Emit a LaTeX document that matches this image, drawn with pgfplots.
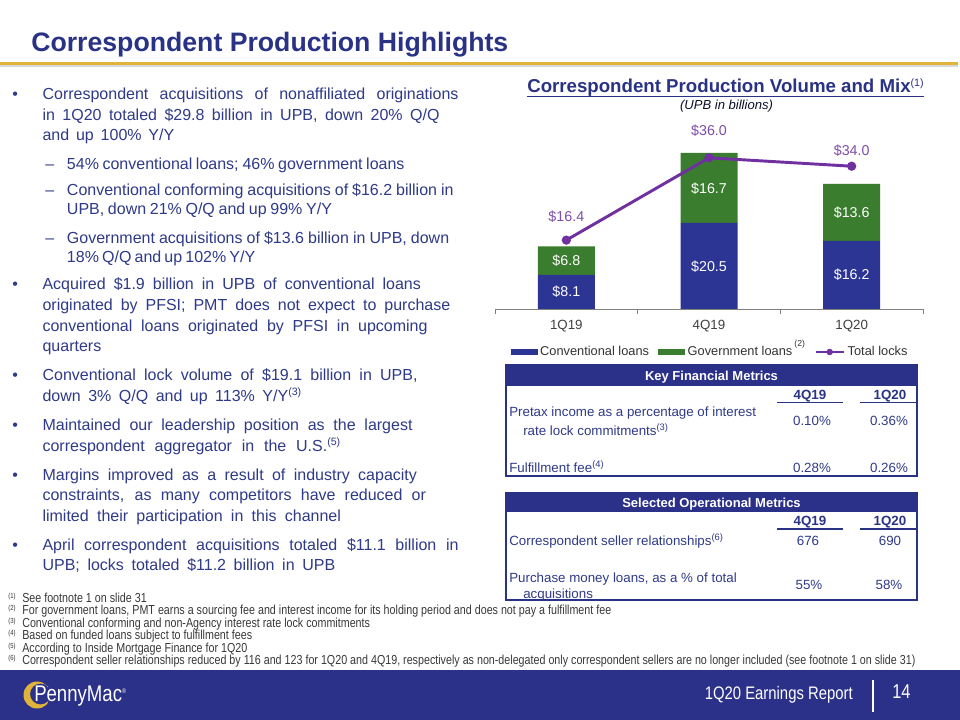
\documentclass[border=0pt]{standalone}
\usepackage{fontspec}
\setmainfont{Liberation Sans}
\newfontfamily\narrow[FakeStretch=0.82]{Liberation Sans}
\usepackage{pgfplots}
\pgfplotsset{compat=1.18}
\definecolor{navy}{HTML}{2A3285}
\definecolor{band}{HTML}{2B3088}
\definecolor{txt}{HTML}{2F3A88}
\definecolor{conv}{HTML}{2C3494}
\definecolor{gov}{HTML}{3A7D2E}
\definecolor{lock}{HTML}{7030A0}
\definecolor{locklbl}{HTML}{7E4CA9}
\definecolor{gold}{HTML}{E0B43A}
\newdimen\px \px=0.75pt
\newcommand\bodyfont{\fontsize{12}{14}\selectfont}
\newcommand\tabf{\fontsize{10}{12}\selectfont}
\newcommand\J[4]{\node[anchor=base west,inner sep=0pt,font=\bodyfont,text=txt] at (#1,#2) {\makebox[#3\px][s]{#4}};}
\newcommand\T[3]{\node[anchor=base west,inner sep=0pt,font=\bodyfont,text=txt] at (#1,#2) {#3};}
\newcommand\F[3]{\node[anchor=base west,inner sep=0pt,font=\narrow\fontsize{9.8}{10}\selectfont,text=black!78] at (8,#1) {\makebox[14\px][l]{\raisebox{3pt}{\fontsize{5.5}{6}\selectfont(#2)}}#3};}
\begin{document}
\begin{tikzpicture}
\path[use as bounding box] (0,0) rectangle (720pt,-540pt);
\fill[white] (0,0) rectangle (720pt,-540pt);
\begin{scope}[x=0.75pt,y=-0.75pt]
% title
\node[anchor=base west,inner sep=0pt,font=\fontsize{20}{24}\selectfont\bfseries,text=navy] at (31,52) {Correspondent Production Highlights};
\fill[black!15] (0,65) rectangle (958,67.5);
\fill[gold] (0,62) rectangle (958,65.2);
% bullets
\T{12}{100}{\textbullet}
\J{42.3}{100}{416}{Correspondent acquisitions of nonaffiliated originations}
\J{42.3}{120.7}{397}{in 1Q20 totaled \$29.8 billion in UPB, down 20\% Q/Q}
\J{42.3}{141}{131.7}{and up 100\% Y/Y}
\T{45}{169.3}{--}
\J{66.7}{169.3}{337.6}{54\% conventional loans; 46\% government loans}
\T{45}{195.7}{--}
\J{66.7}{195.7}{386.6}{Conventional conforming acquisitions of \$16.2 billion in}
\J{66.7}{215}{265}{UPB, down 21\% Q/Q and up 99\% Y/Y}
\T{45}{243.3}{--}
\J{66.7}{243.3}{382.3}{Government acquisitions of \$13.6 billion in UPB, down}
\J{66.7}{262.7}{188.3}{18\% Q/Q and up 102\% Y/Y}
\T{12}{290}{\textbullet}
\J{42.3}{290}{378.4}{Acquired \$1.9 billion in UPB of conventional loans}
\J{42.3}{310.7}{407.7}{originated by PFSI; PMT does not expect to purchase}
\J{42.3}{331.7}{385}{conventional loans originated by PFSI in upcoming}
\T{42.3}{351.7}{quarters}
\T{12}{380}{\textbullet}
\J{42.3}{380}{375}{Conventional lock volume of \$19.1 billion in UPB,}
\J{42.3}{401.7}{259.4}{down 3\% Q/Q and up 113\% Y/Y\textsuperscript{(3)}}
\T{12}{430}{\textbullet}
\J{42.3}{430}{370}{Maintained our leadership position as the largest}
\J{42.3}{451}{298.4}{correspondent aggregator in the U.S.\textsuperscript{(5)}}
\T{12}{480}{\textbullet}
\J{42.3}{480}{374.4}{Margins improved as a result of industry capacity}
\J{42.3}{500.7}{383.4}{constraints, as many competitors have reduced or}
\J{42.3}{521}{298.4}{limited their participation in this channel}
\T{12}{550}{\textbullet}
\J{42.3}{550}{416}{April correspondent acquisitions totaled \$11.1 billion in}
\J{42.3}{570.7}{292.7}{UPB; locks totaled \$11.2 billion in UPB}
% chart title
\node[anchor=base west,inner sep=0pt,font=\fontsize{14}{17}\selectfont\bfseries,text=navy] (ct) at (527,93) {Correspondent Production Volume and Mix\raisebox{5pt}{\fontsize{8}{9}\selectfont\mdseries(1)}};
\draw[navy,line width=1pt] ([yshift=-2.4pt]ct.base west) -- ([yshift=-2.4pt]ct.base east);
\node[anchor=base,inner sep=0pt,font=\fontsize{9.8}{11}\selectfont\itshape,text=black!70!navy] at (726.5,110) {(UPB in billions)};
% table 1
\fill[band] (506,365) rectangle (917,386);
\draw[navy,line width=0.8pt] (506,365) rectangle (917,476);
\node[anchor=base,inner sep=0pt,font=\fontsize{9.75}{11}\selectfont\bfseries,text=white] at (711.5,380) {Key Financial Metrics};
\node[anchor=base,inner sep=0pt,font=\tabf\bfseries,text=navy] at (810,399) {4Q19};
\node[anchor=base,inner sep=0pt,font=\tabf\bfseries,text=navy] at (890,399) {1Q20};
\draw[navy,line width=0.8pt] (777,402.5) -- (843,402.5) (860,402.5) -- (917,402.5);
\node[anchor=base west,inner sep=0pt,font=\tabf,text=txt] at (509,416) {Pretax income as a percentage of interest};
\node[anchor=base west,inner sep=0pt,font=\tabf,text=txt] at (523,435) {rate lock commitments\textsuperscript{(3)}};
\node[anchor=base,inner sep=0pt,font=\tabf,text=txt] at (812,425) {0.10\%};
\node[anchor=base,inner sep=0pt,font=\tabf,text=txt] at (889,425) {0.36\%};
\node[anchor=base west,inner sep=0pt,font=\tabf,text=txt] at (509,472) {Fulfillment fee\textsuperscript{(4)}};
\node[anchor=base,inner sep=0pt,font=\tabf,text=txt] at (812,472) {0.28\%};
\node[anchor=base,inner sep=0pt,font=\tabf,text=txt] at (889,472) {0.26\%};
% table 2
\fill[band] (506,493) rectangle (917,512);
\draw[navy,line width=0.8pt] (506,493) rectangle (917,600);
\node[anchor=base,inner sep=0pt,font=\fontsize{9.75}{11}\selectfont\bfseries,text=white] at (711.5,507) {Selected Operational Metrics};
\node[anchor=base,inner sep=0pt,font=\tabf\bfseries,text=navy] at (810,525.5) {4Q19};
\node[anchor=base,inner sep=0pt,font=\tabf\bfseries,text=navy] at (890,525.5) {1Q20};
\draw[navy,line width=0.8pt] (777,529) -- (843,529) (860,529) -- (917,529);
\node[anchor=base west,inner sep=0pt,font=\tabf,text=txt] at (509,545) {Correspondent seller relationships\textsuperscript{(6)}};
\node[anchor=base,inner sep=0pt,font=\tabf,text=txt] at (808,545) {676};
\node[anchor=base,inner sep=0pt,font=\tabf,text=txt] at (890,545) {690};
\node[anchor=base west,inner sep=0pt,font=\tabf,text=txt] at (509,582) {Purchase money loans, as a \% of total};
\node[anchor=base west,inner sep=0pt,font=\tabf,text=txt] at (523,598) {acquisitions};
\node[anchor=base,inner sep=0pt,font=\tabf,text=txt] at (809,589) {55\%};
\node[anchor=base,inner sep=0pt,font=\tabf,text=txt] at (889,589) {58\%};
% footnotes
\F{602}{1}{See footnote 1 on slide 31}
\F{614.5}{2}{For government loans, PMT earns a sourcing fee and interest income for its holding period and does not pay a fulfillment fee}
\F{627}{3}{Conventional conforming and non-Agency interest rate lock commitments}
\F{639.5}{4}{Based on funded loans subject to fulfillment fees}
\F{652}{5}{According to Inside Mortgage Finance for 1Q20}
\F{664.5}{6}{Correspondent seller relationships reduced by 116 and 123 for 1Q20 and 4Q19, respectively as non-delegated only correspondent sellers are no longer included (see footnote 1 on slide 31)}
% footer
\fill[band] (0,670) rectangle (960,720);
\begin{scope}
\clip (15,675) rectangle (48,715);
\fill[gold,even odd rule] (37,695) circle[radius=13.5] (40.5,694) circle[radius=10.5];
\end{scope}
\node[anchor=base west,inner sep=0pt,font=\narrow\fontsize{17}{18}\selectfont,text=white] at (34,701) {PennyMac\raisebox{6pt}{\fontsize{5}{5}\selectfont\textregistered}};
\node[anchor=base east,inner sep=0pt,font=\narrow\fontsize{13.6}{15}\selectfont,text=white] at (853,699) {1Q20 Earnings Report};
\draw[white,line width=1.4pt] (873,680) -- (873,712);
\node[anchor=base west,inner sep=0pt,font=\narrow\fontsize{15}{16}\selectfont,text=white] at (892,698) {14};
\end{scope}
% bar chart
\begin{axis}[
  at={(371.25pt,-231.75pt)}, anchor=south west,
  width=321pt, height=141.75pt, scale only axis,
  xmin=-0.5, xmax=2.5, ymin=0, ymax=45,
  axis x line=bottom, axis y line=none,
  x axis line style={-, draw=black!50, line width=0.6pt},
  xtick={-0.5,0.5,1.5,2.5}, xticklabels={},
  xtick style={draw=black!50, line width=0.6pt},
  xtick align=outside, major tick length=4pt,
  extra x ticks={0,1,2}, extra x tick labels={1Q19,4Q19,1Q20},
  extra x tick style={major tick length=0pt, tick label style={yshift=-5pt}},
  ticklabel style={font=\fontsize{10}{12}\selectfont, text=black!75},
  ybar stacked, bar width=42.75pt, clip=false,
  legend style={at={(0.5035,-0.2275)}, anchor=center, draw=none, fill=none,
    font=\fontsize{9.6}{11}\selectfont, text=black!80, legend columns=3,
    /tikz/every even column/.append style={column sep=5pt}},
  legend cell align=left,
]
\addplot[fill=conv, draw=none, legend image code/.code={\fill[conv] (0pt,-2.6pt) rectangle (20pt,2.6pt);}] coordinates {(0,8.1) (1,20.5) (2,16.2)};
\addlegendentry{Conventional loans}
\addplot[fill=gov, draw=none, legend image code/.code={\fill[gov] (0pt,-2.6pt) rectangle (20pt,2.6pt);}] coordinates {(0,6.8) (1,16.7) (2,13.6)};
\addlegendentry{Government loans\,\smash{\raisebox{7pt}{\fontsize{6.5}{7}\selectfont(2)}}}
\addlegendimage{legend image code/.code={\draw[lock,line width=2pt] (0pt,0pt) -- (21pt,0pt); \fill[lock] (10.5pt,0pt) circle (2.2pt);}}
\addlegendentry{Total locks}
\end{axis}
\begin{axis}[
  at={(371.25pt,-231.75pt)}, anchor=south west,
  width=321pt, height=141.75pt, scale only axis,
  xmin=-0.5, xmax=2.5, ymin=0, ymax=45, hide axis, clip=false,
]
\addplot[lock, line width=2.2pt, mark=*, mark size=2.3pt, mark options={fill=lock, draw=lock}] coordinates {(0,16.4) (1,36.0) (2,34.0)};
\node[text=white, font=\fontsize{10.7}{12}\selectfont] at (axis cs:0,4.05) {\$8.1};
\node[text=white, font=\fontsize{10.7}{12}\selectfont] at (axis cs:0,11.5) {\$6.8};
\node[text=white, font=\fontsize{10.7}{12}\selectfont] at (axis cs:1,10.1) {\$20.5};
\node[text=white, font=\fontsize{10.7}{12}\selectfont] at (axis cs:1,28.7) {\$16.7};
\node[text=white, font=\fontsize{10.7}{12}\selectfont] at (axis cs:2,8.1) {\$16.2};
\node[text=white, font=\fontsize{10.7}{12}\selectfont] at (axis cs:2,23.0) {\$13.6};
\node[text=locklbl, font=\fontsize{10.7}{12}\selectfont] at (axis cs:0,22.0) {\$16.4};
\node[text=locklbl, font=\fontsize{10.7}{12}\selectfont] at (axis cs:1,42.4) {\$36.0};
\node[text=locklbl, font=\fontsize{10.7}{12}\selectfont] at (axis cs:2,37.6) {\$34.0};
\end{axis}
\end{tikzpicture}
\end{document}
